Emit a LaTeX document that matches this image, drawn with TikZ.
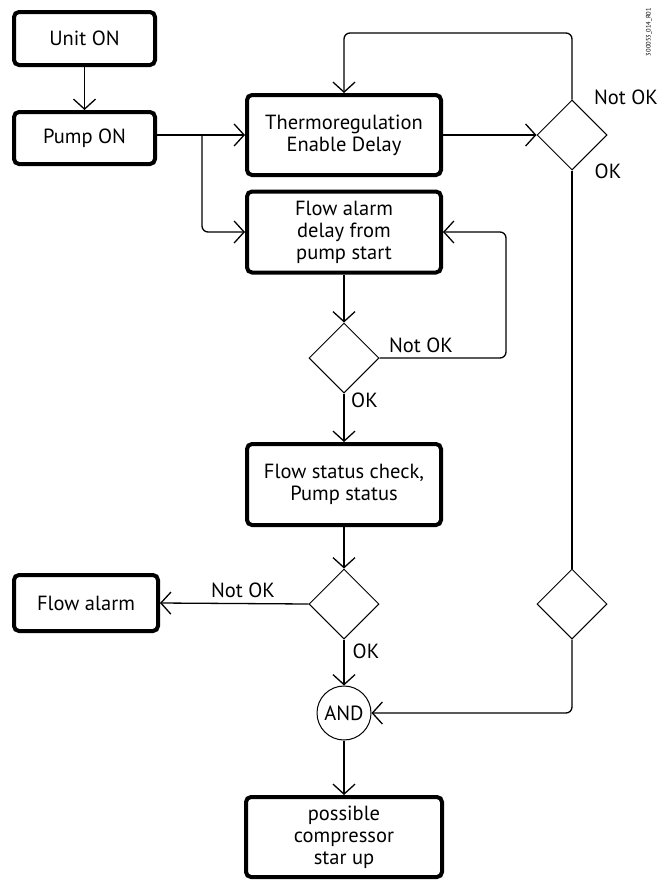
\documentclass[tikz,border=0pt]{standalone}
\usepackage{fontspec}
\setmainfont{PT Sans}
\usetikzlibrary{arrows.meta,shapes.geometric}

\begin{document}
\begin{tikzpicture}[x=1pt,y=-1pt,line width=1.3pt,>={Straight Barb[length=10pt,width=22pt]},
  stepbox/.style={draw,line width=4pt,rounded corners=5pt,align=center,inner sep=0pt,
    font=\fontsize{20.5}{22}\selectfont},
  test/.style={draw,diamond,line width=1pt,minimum width=70pt,minimum height=70pt,inner sep=0pt},
  lab/.style={inner sep=0pt,font=\fontsize{20.5}{22}\selectfont}]
\useasboundingbox (0,0) rectangle (661,881);
\def\Xm{344}\def\Xr{572}
% ---------- boxes ----------
\node[stepbox,minimum width=141,minimum height=53] (unit)   at (84.5,38.5) {Unit ON};
\node[stepbox,minimum width=141,minimum height=52] (pump)   at (84.5,138)  {Pump ON};
\node[stepbox,minimum width=194,minimum height=80] (thermo) at (\Xm,135)   {Thermoregulation\\Enable Delay};
\node[stepbox,minimum width=194,minimum height=81] (delay)  at (\Xm,232)   {Flow alarm\\delay from\\pump start};
\node[stepbox,minimum width=194,minimum height=81] (status) at (\Xm,484.5) {Flow status check,\\Pump status};
\node[stepbox,minimum width=144,minimum height=56] (alarm)  at (86,603)    {Flow alarm};
\node[stepbox,minimum width=196,minimum height=80] (start)  at (\Xm,837)   {possible\\compressor\\star up};
% ---------- tests ----------
\node[test] (tdelay)  at (\Xm,358) {};
\node[test] (tstatus) at (\Xm,604) {};
\node[test] (tthermo) at (\Xr,135) {};
\node[test] (tok)     at (\Xr,604) {};
\node[draw,circle,line width=1pt,minimum size=54pt,inner sep=0pt,
  font=\fontsize{20.5}{22}\selectfont] (and) at (\Xm,713) {AND};
% ---------- helper points ----------
\coordinate (split) at (202,135);
\coordinate (loopT) at (\Xm,33);
\coordinate (loopR) at (506,232);
% ---------- connectors ----------
\draw[->] (unit) -- (pump);
\draw (pump.east |- thermo) -- (split);
\draw[->] (split) -- (thermo.west);
\draw[->,rounded corners=6pt] (split) |- (delay.west);
\draw[->] (thermo.east) -- (tthermo.west);
\draw[->,rounded corners=6pt] (tthermo.north) |- (loopT) -- (thermo.north);
\draw (tthermo.south) -- (tok.north);
\draw[->,rounded corners=6pt] (tok.south) |- (and.east);
\draw[->] (delay) -- (tdelay);
\draw[->,rounded corners=6pt] (tdelay.east) -| (loopR) -- (delay.east);
\draw[->] (tdelay) -- (status);
\draw[->] (status) -- (tstatus);
\draw[->] (tstatus.west) -- (alarm.east);
\draw[->] (tstatus) -- (and);
\draw[->] (and) -- (start);
% ---------- labels ----------
\node[lab] (ntt) at (626,97)    {Not OK};
\node[lab] (ott) at (608,171)   {OK};
\node[lab] (ntd) at (421,345)   {Not OK};
\node[lab] (otd) at (364.5,400) {OK};
\node[lab] (nts) at (243,590)   {Not OK};
\node[lab] (ots) at (366,651)   {OK};
\node[rotate=90,inner sep=0pt,font=\fontsize{6.5}{7}\selectfont] (code) at (649,32) {300053\_014\_R01};
\end{tikzpicture}
\end{document}
